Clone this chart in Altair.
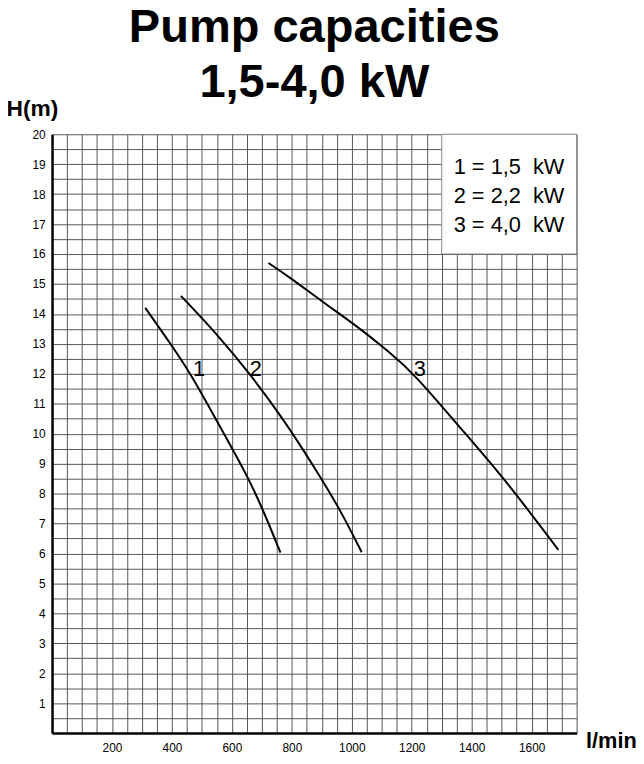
import altair as alt
import pandas as pd

# ---- data ----
x_grid = list(range(0, 1751, 50))
y_grid = [i / 2 for i in range(0, 41)]

pump1_q = [311, 399, 465, 547, 652, 707, 762]
pump1_h = [14.2, 12.95, 11.96, 10.47, 8.6, 7.38, 6.03]

pump2_q = [430, 553, 663, 773, 872, 960, 1033]
pump2_h = [14.6, 13.3, 11.96, 10.47, 8.93, 7.49, 6.04]

pump3_q = [722, 795, 905, 1015, 1125, 1210, 1362, 1510, 1689]
pump3_h = [15.7, 15.21, 14.38, 13.61, 12.73, 11.98, 10.19, 8.49, 6.12]

curve_names = ["1", "2", "3"]
curve_label_q = [490, 680, 1227]
curve_label_h = [11.93, 11.93, 11.93]

legend_lines = ["1 = 1,5\u00a0 kW", "2 = 2,2\u00a0 kW", "3 = 4,0\u00a0 kW"]
legend_q = [1340, 1340, 1340]
legend_h = [18.68, 17.69, 16.75]

legend_box = {"q": [1300], "q2": [1750], "h": [16], "h2": [20]}

# ---- tables ----
rows = []
for name, qs, hs in [("1", pump1_q, pump1_h), ("2", pump2_q, pump2_h), ("3", pump3_q, pump3_h)]:
    for i, (q, h) in enumerate(zip(qs, hs)):
        rows.append({"pump": name, "q": q, "h": h, "i": i})
curves = pd.DataFrame(rows)
labels = pd.DataFrame({"t": curve_names, "q": curve_label_q, "h": curve_label_h})
legend = pd.DataFrame({"t": legend_lines, "q": legend_q, "h": legend_h})
box = pd.DataFrame(legend_box)

FONT = "Liberation Sans"

xscale = alt.Scale(domain=[0, 1750], nice=False, zero=False)
yscale = alt.Scale(domain=[0, 20], nice=False, zero=False)

xaxis = alt.Axis(
    values=x_grid, grid=True, gridColor="#555", gridWidth=1, ticks=False,
    domain=True, domainColor="black", domainWidth=2.5,
    labelExpr="(datum.value % 200 == 0 && datum.value > 0 && datum.value <= 1600) ? '' + datum.value : ''",
    labelFont=FONT, labelFontSize=12, labelColor="black", labelPadding=10,
    labelOverlap=False, labelFlush=False,
    title="l/min", titleFont=FONT, titleFontSize=22, titleFontWeight="bold", titleColor="black",
    titleX=539, titleY=15, titleAlign="left", titleBaseline="alphabetic", titleAnchor="start",
)
yaxis = alt.Axis(
    values=y_grid, grid=True, gridColor="#555", gridWidth=1, ticks=False,
    domain=True, domainColor="black", domainWidth=2.5,
    labelExpr="(datum.value % 1 == 0 && datum.value > 0) ? '' + datum.value : ''",
    labelFont=FONT, labelFontSize=12, labelColor="black", labelPadding=7,
    labelOverlap=False, labelFlush=False,
    title="H(m)", titleFont=FONT, titleFontSize=23, titleFontWeight="bold", titleColor="black",
    titleAngle=0, titleX=-46.5, titleY=-19, titleAlign="left", titleBaseline="alphabetic", titleAnchor="start",
)

X = alt.X("q:Q", scale=xscale, axis=xaxis)
Y = alt.Y("h:Q", scale=yscale, axis=yaxis)

lines = alt.Chart(curves).mark_line(color="black", strokeWidth=2, interpolate="basis").encode(
    x=X, y=Y, detail="pump:N", order="i:Q"
)

rect = alt.Chart(box).mark_rect(fill="white", stroke="#888", strokeWidth=1).encode(
    x=X, x2="q2:Q", y=Y, y2="h2:Q",
)

curve_text = alt.Chart(labels).mark_text(
    font=FONT, fontSize=22, color="black", align="center", baseline="alphabetic"
).encode(x=X, y=Y, text="t:N")

legend_text = alt.Chart(legend).mark_text(
    font=FONT, fontSize=22, color="black", align="left", baseline="alphabetic"
).encode(x=X, y=Y, text="t:N")

chart = alt.layer(lines, rect, curve_text, legend_text).properties(
    width=530,
    height=605,
    title=alt.TitleParams(
        text=["Pump capacities", "1,5-4,0 kW"],
        font=FONT, fontSize=47.5, fontWeight="bold", color="black",
        lineHeight=56, anchor="middle", offset=0, dy=9,
    ),
    autosize=alt.AutoSizeParams(type="none"),
    padding={"left": 44.5, "top": 123.7, "right": 60, "bottom": 20},
).configure_view(stroke=None)

chart.save("out.html", embed_options={"renderer": "svg", "actions": False})
